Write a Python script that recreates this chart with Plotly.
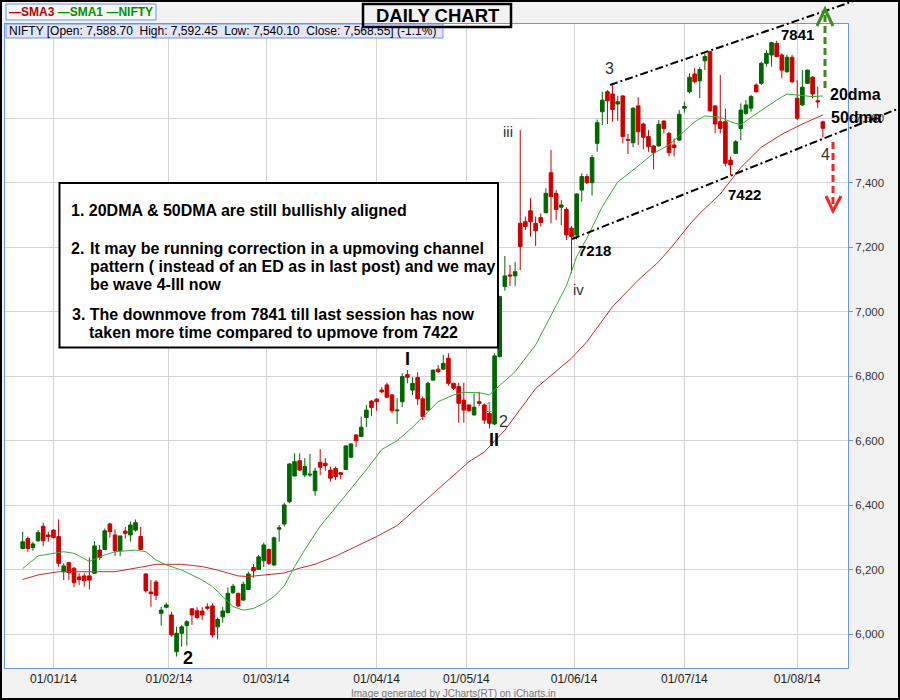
import plotly.graph_objects as go

# NIFTY daily candles, 23/12/2013 .. 08/08/2014
opens = [6266, 6297, 6269, 6290, 6335, 6308, 6323, 6303, 6194, 6222,
         6205, 6178, 6181, 6181, 6189, 6261, 6263, 6342, 6308, 6259,
         6320, 6308, 6323, 6303, 6187, 6131, 6162, 6065, 6084, 6060,
         5946, 6003, 6027, 6079, 6073, 6072, 6085, 6088, 6023, 6054,
         6067, 6129, 6127, 6106, 6139, 6207, 6201, 6228, 6263, 6215,
         6326, 6342, 6411, 6491, 6538, 6494, 6494, 6445, 6533, 6530,
         6509, 6514, 6501, 6511, 6549, 6618, 6613, 6672, 6723, 6729,
         6757, 6773, 6742, 6693, 6721, 6805, 6757, 6796, 6730, 6695,
         6788, 6822, 6822, 6856, 6778, 6768, 6726, 6711, 6680, 6721,
         6711, 6685, 6652, 6861, 7078, 7114, 7111, 7274, 7279, 7313,
         7274, 7292, 7307, 7431, 7367, 7324, 7317, 7259, 7238, 7377,
         7419, 7400, 7522, 7620, 7682, 7675, 7644, 7669, 7534, 7524,
         7638, 7582, 7543, 7514, 7514, 7591, 7553, 7517, 7532, 7631,
         7682, 7737, 7716, 7778, 7806, 7638, 7589, 7589, 7470, 7491,
         7568, 7615, 7631, 7703, 7708, 7770, 7796, 7832, 7796, 7744,
         7789, 7662, 7641, 7708, 7727, 7654, 7588.70]
highs = [6318, 6303, 6287, 6323, 6346, 6318, 6325, 6356, 6220, 6225,
         6208, 6189, 6189, 6238, 6289, 6277, 6328, 6346, 6325, 6305,
         6333, 6349, 6356, 6333, 6189, 6168, 6168, 6085, 6098, 6070,
         6023, 6029, 6044, 6080, 6084, 6084, 6096, 6096, 6052, 6085,
         6145, 6156, 6129, 6163, 6194, 6218, 6246, 6284, 6266, 6303,
         6339, 6408, 6530, 6561, 6561, 6546, 6559, 6517, 6574, 6546,
         6520, 6520, 6504, 6586, 6592, 6620, 6675, 6711, 6726, 6732,
         6766, 6780, 6745, 6732, 6809, 6819, 6797, 6812, 6737, 6783,
         6821, 6835, 6866, 6871, 6780, 6780, 6780, 6711, 6747, 6752,
         6716, 6711, 6871, 7050, 7173, 7145, 7155, 7563, 7295, 7352,
         7295, 7305, 7383, 7501, 7377, 7346, 7324, 7266, 7367, 7429,
         7427, 7486, 7596, 7682, 7687, 7703, 7669, 7672, 7551, 7634,
         7665, 7586, 7563, 7517, 7594, 7594, 7558, 7537, 7625, 7651,
         7739, 7755, 7758, 7801, 7809, 7641, 7734, 7630, 7481, 7532,
         7646, 7656, 7672, 7708, 7775, 7811, 7837, 7840, 7801, 7796,
         7796, 7718, 7749, 7751, 7731, 7698, 7592.45]
lows = [6263, 6256, 6259, 6287, 6273, 6287, 6297, 6210, 6168, 6168,
        6146, 6153, 6148, 6139, 6187, 6230, 6261, 6300, 6242, 6242,
        6297, 6287, 6318, 6261, 6129, 6085, 6106, 6027, 6080, 5993,
        5931, 5962, 5965, 6029, 6046, 6044, 6075, 5990, 5984, 6036,
        6065, 6125, 6085, 6104, 6137, 6175, 6199, 6209, 6215, 6212,
        6287, 6334, 6406, 6489, 6507, 6487, 6487, 6430, 6494, 6507,
        6473, 6478, 6480, 6509, 6546, 6580, 6611, 6642, 6677, 6693,
        6747, 6732, 6685, 6652, 6704, 6778, 6742, 6711, 6664, 6693,
        6786, 6811, 6819, 6771, 6757, 6656, 6656, 6690, 6678, 6708,
        6652, 6638, 6649, 6858, 7065, 7080, 7080, 7129, 7253, 7233,
        7204, 7264, 7305, 7274, 7284, 7269, 7222, 7119, 7224, 7341,
        7396, 7360, 7496, 7579, 7582, 7589, 7592, 7522, 7489, 7510,
        7517, 7503, 7496, 7441, 7512, 7553, 7481, 7481, 7530, 7617,
        7677, 7708, 7662, 7749, 7620, 7553, 7553, 7450, 7424, 7489,
        7532, 7610, 7620, 7679, 7703, 7760, 7760, 7789, 7724, 7741,
        7708, 7594, 7638, 7706, 7662, 7631, 7540.10]
closes = [6287, 6266, 6280, 6315, 6290, 6303, 6300, 6220, 6212, 6191,
          6160, 6170, 6166, 6168, 6274, 6238, 6321, 6318, 6259, 6305,
          6313, 6339, 6346, 6263, 6135, 6126, 6121, 6075, 6091, 5998,
          6003, 6023, 6039, 6060, 6052, 6060, 6081, 5998, 6046, 6072,
          6127, 6149, 6088, 6155, 6187, 6197, 6240, 6277, 6220, 6299,
          6330, 6401, 6528, 6535, 6509, 6520, 6496, 6506, 6518, 6523,
          6484, 6489, 6496, 6584, 6590, 6600, 6642, 6695, 6703, 6721,
          6752, 6735, 6693, 6695, 6799, 6797, 6778, 6730, 6675, 6778,
          6819, 6814, 6840, 6778, 6763, 6716, 6695, 6693, 6704, 6716,
          6664, 6654, 6863, 7047, 7111, 7111, 7124, 7202, 7264, 7279,
          7251, 7277, 7367, 7357, 7317, 7331, 7238, 7233, 7365, 7419,
          7400, 7478, 7586, 7656, 7654, 7627, 7651, 7543, 7532, 7631,
          7558, 7541, 7512, 7493, 7581, 7568, 7493, 7509, 7612, 7636,
          7727, 7713, 7751, 7791, 7623, 7582, 7568, 7460, 7455, 7527,
          7625, 7641, 7667, 7682, 7770, 7801, 7834, 7791, 7749, 7789,
          7713, 7600, 7696, 7749, 7675, 7651, 7568.55]
days = list(range(len(opens)))

# 20 day SMA (green) and 50 day SMA (red), read at some candles
sma20_x = [0, 3, 8, 10, 13, 16, 18, 22, 24, 26, 28, 31, 33, 35, 37, 39, 41,
           43, 45, 47, 49, 51, 53, 55, 58, 63, 67, 70, 73, 76, 79, 81, 84,
           86, 89, 91, 92, 96, 100, 103, 106, 108, 110, 113, 116, 120, 123,
           126, 129, 131, 133, 136, 138, 140, 142, 145, 147, 149, 151, 154, 156]
sma20_y = [6204, 6243, 6256, 6251, 6226, 6246, 6256, 6261, 6256, 6230, 6215,
           6199, 6184, 6168, 6148, 6117, 6086, 6075, 6080, 6096, 6117, 6150,
           6210, 6262, 6335, 6432, 6510, 6573, 6600, 6642, 6690, 6721, 6742,
           6750, 6749, 6742, 6757, 6814, 6897, 6990, 7080, 7171, 7228, 7326,
           7402, 7452, 7491, 7517, 7560, 7589, 7607, 7603, 7589, 7579, 7603,
           7636, 7656, 7675, 7672, 7667, 7669]
sma50_x = [0, 3, 7, 12, 18, 23, 26, 31, 35, 38, 42, 44, 48, 51, 54, 57, 61,
           65, 69, 73, 77, 83, 87, 90, 94, 100, 107, 110, 115, 120, 124, 127,
           130, 132, 136, 140, 144, 148, 152, 156]
sma50_y = [6170, 6184, 6194, 6194, 6194, 6208, 6217, 6217, 6210, 6199, 6181,
           6179, 6186, 6190, 6205, 6217, 6242, 6273, 6303, 6337, 6394, 6478,
           6535, 6565, 6633, 6762, 6856, 6907, 7016, 7098, 7155, 7210, 7270,
           7305, 7365, 7447, 7510, 7550, 7582, 7610]

month_pos = [6, 28.5, 47.5, 69, 86.5, 107.5, 129, 151]
month_labels = ['01/01/14', '01/02/14', '01/03/14', '01/04/14',
                '01/05/14', '01/06/14', '01/07/14', '01/08/14']
price_ticks = [6000, 6200, 6400, 6600, 6800, 7000, 7200, 7400, 7600]

W, H = 900, 700
ML, MR, MT, MB = 5, 52, 24, 32
PW, PH = W - ML - MR, H - MT - MB
FONT = 'Liberation Sans, Arial, sans-serif'
BLUE = '#6a95e8'


# pixel position -> paper fraction, for the drawn-on notes
def px(x):
    return (x - ML) / PW


def py(y):
    return (H - MB - y) / PH


fig = go.Figure()
fig.add_trace(go.Scatter(x=sma50_x, y=sma50_y, mode='lines', name='SMA3',
                         line=dict(color='#cc2a2a', width=1)))
fig.add_trace(go.Scatter(x=sma20_x, y=sma20_y, mode='lines', name='SMA1',
                         line=dict(color='#3aaa3a', width=1)))
fig.add_trace(go.Candlestick(x=days, open=opens, high=highs, low=lows, close=closes,
                             name='NIFTY', whiskerwidth=0,
                             increasing=dict(line=dict(color='#006600', width=1), fillcolor='#006600'),
                             decreasing=dict(line=dict(color='#cc0000', width=1), fillcolor='#cc0000')))

shapes = []
# outer frame
shapes.append(dict(type='rect', xref='paper', yref='paper', x0=px(1), x1=px(899),
                   y0=py(1), y1=py(699), line=dict(color='black', width=2)))
# channel lines
for (xa, ya, xb, yb) in [(610, 85, 870, -4.5), (572, 239, 900, 108)]:
    shapes.append(dict(type='line', xref='paper', yref='paper', x0=px(xa), y0=py(ya),
                       x1=px(xb), y1=py(yb), line=dict(color='black', width=2, dash='8px,3px,2px,3px')))
# green up arrow, red down arrow
shapes.append(dict(type='line', xref='paper', yref='paper', x0=px(825), y0=py(88), x1=px(825), y1=py(12),
                   line=dict(color='#3d8c1e', width=3, dash='7px,4px')))
shapes.append(dict(type='path', xref='paper', yref='paper',
                   path='M %f %f L %f %f L %f %f' % (px(817), py(26), px(825), py(9), px(833), py(26)),
                   line=dict(color='#3d8c1e', width=3)))
shapes.append(dict(type='line', xref='paper', yref='paper', x0=px(833), y0=py(142), x1=px(833), y1=py(207),
                   line=dict(color='#ff2020', width=3, dash='7px,4px')))
shapes.append(dict(type='path', xref='paper', yref='paper',
                   path='M %f %f L %f %f L %f %f' % (px(826), py(196), px(833), py(211), px(841), py(196)),
                   line=dict(color='#ff2020', width=3)))
# boxes: legend, info, title, notes
shapes.append(dict(type='rect', xref='paper', yref='paper', x0=px(6), x1=px(156), y0=py(4), y1=py(20),
                   line=dict(color=BLUE, width=1), fillcolor='#f6f6f6'))
shapes.append(dict(type='rect', xref='paper', yref='paper', x0=px(6), x1=px(443), y0=py(24), y1=py(38),
                   line=dict(color=BLUE, width=1), fillcolor='#e4e6f8'))
shapes.append(dict(type='rect', xref='paper', yref='paper', x0=px(363), x1=px(511), y0=py(4), y1=py(27),
                   line=dict(color='black', width=2.5)))
shapes.append(dict(type='rect', xref='paper', yref='paper', x0=px(59.5), x1=px(498), y0=py(183), y1=py(347.5),
                   line=dict(color='black', width=2), fillcolor='white'))

notes = []


def note(x, y, text, size, color='black', anchor='center'):
    notes.append(dict(x=px(x), y=py(y), xref='paper', yref='paper', text=text, showarrow=False,
                      xanchor=anchor, yanchor='middle', font=dict(family=FONT, size=size, color=color)))


note(81, 12, "<b><span style='color:#c00000'>—SMA3</span> <span style='color:#009000'>—SMA1</span>"
             " <span style='color:#009000'>—NIFTY</span></b>", 12)
note(7, 31, 'NIFTY [Open: 7,588.70\u00a0 High: 7,592.45\u00a0 Low: 7,540.10\u00a0 '
            'Close: 7,568.55] (-1.1%)', 12, anchor='left')
note(438, 16, '<b>DAILY CHART</b>', 18.5)

box_lines = [(69, 210, '1. 20DMA &amp; 50DMA are still bullishly aligned'),
             (69, 248, '2.'),
             (88, 248, 'It may be running correction in a upmoving channel'),
             (88, 266, 'pattern ( instead of an ED as in last post) and we may'),
             (88, 284, 'be wave 4-III now'),
             (70, 314.5, '3. The downmove from 7841 till last session has now'),
             (87, 332.5, 'taken more time compared to upmove from 7422')]
for (bx, by, txt) in box_lines:
    note(bx, by, '<b>' + txt + '</b>', 16, anchor='left')

note(188, 658, '<b>2</b>', 18)
note(407, 359, '<b>I</b>', 18)
note(494, 440, '<b>II</b>', 18)
note(503, 421, '2', 16, '#333333')
note(489, 406, '1', 15, '#999999')
note(508, 131, 'iii', 15, '#333333')
note(578, 289, 'iv', 15, '#333333')
note(609, 68, '3', 16, '#333333')
note(825, 154, '4', 16, '#333333')
note(594, 250, '<b>7218</b>', 15)
note(744, 194, '<b>7422</b>', 15)
note(797, 35, '<b>7841</b>', 15)
note(855, 94, '<b>20dma</b>', 16)
note(856, 117, '<b>50dma</b>', 16)
note(454, 693, 'Image generated by JCharts(RT) on iCharts.in', 10, '#777777')

fig.update_layout(
    width=W, height=H,
    margin=dict(l=ML, r=MR, t=MT, b=MB),
    paper_bgcolor='#f2f2f2', plot_bgcolor='white',
    showlegend=False,
    boxgap=0.22, boxgroupgap=0.1,
    font=dict(family=FONT, size=12, color='#222222'),
    shapes=shapes, annotations=notes,
    xaxis=dict(range=[-3.45, 160.9], tickvals=month_pos, ticktext=month_labels,
               showgrid=True, gridcolor='#d4d4d4', gridwidth=1, zeroline=False,
               showline=True, mirror=True, linecolor=BLUE, linewidth=1, ticks='',
               tickfont=dict(size=12, color='#222222'), rangeslider=dict(visible=False)),
    yaxis=dict(range=[5895.5, 7892], side='right', tickvals=price_ticks, tickformat=',',
               showgrid=True, gridcolor='#d4d4d4', gridwidth=1, zeroline=False,
               showline=True, mirror=True, linecolor=BLUE, linewidth=1,
               ticks='outside', ticklen=4, tickcolor=BLUE,
               tickfont=dict(size=11.5, color='#333333')),
)

# the page body has a default 8px margin, drop it so the figure sits at 0,0
fig.write_html('out.html', config={'displayModeBar': False},
               post_script="document.body.style.margin = '0px';")
